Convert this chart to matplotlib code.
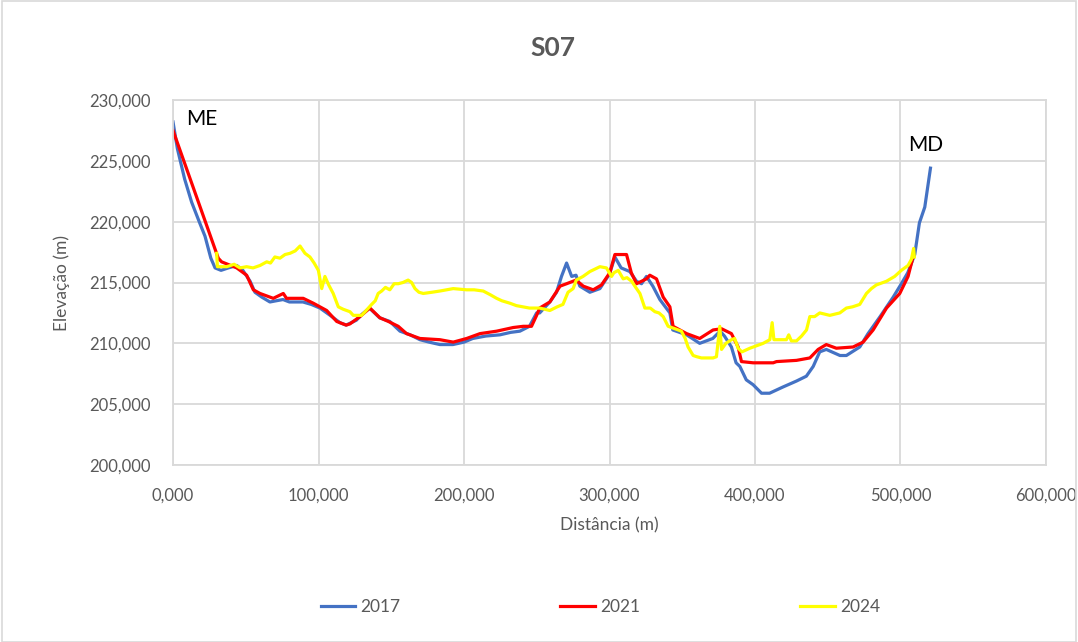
import matplotlib
matplotlib.use("Agg")
import matplotlib.pyplot as plt
from matplotlib.ticker import FuncFormatter, MultipleLocator
from matplotlib.patches import Rectangle

plt.rcParams['font.family'] = ['Lato', 'DejaVu Sans']

# perfil S07 - distancia (m) / elevacao (m)
dist_2017 = [0, 3, 8, 12.8, 18, 22, 26, 28.9, 33, 38, 43.8, 48, 53, 56.3, 61, 66.6, 71, 75.6, 80, 89.3,
             95, 101, 108, 114.7, 119, 126, 130, 135, 142, 149, 156, 163, 169.7, 176, 183.4, 192.4, 200,
             206, 215, 224.7, 232, 238.4, 245, 249.9, 252, 259, 263.6, 267, 270.5, 274, 277, 279.6, 286.5,
             293.4, 300, 303.7, 308, 314, 318.6, 322, 325.4, 329.8, 334.6, 341.5, 343.5, 353, 362, 371,
             376, 379, 383.8, 387, 389.6, 394, 398.7, 404.5, 410, 419, 428.5, 435.3, 440, 444.5, 449,
             458.4, 462.8, 472, 477.7, 486, 495, 500.6, 505, 509.8, 513, 516.7, 520.6]
elev_2017 = [228.2, 226.0, 223.5, 221.6, 220.0, 218.8, 217.0, 216.2, 216.0, 216.2, 216.4, 216.0, 215.1,
             214.2, 213.8, 213.4, 213.5, 213.6, 213.4, 213.4, 213.2, 212.9, 212.3, 211.7, 211.5, 211.9,
             212.4, 212.9, 212.1, 211.8, 211.0, 210.7, 210.3, 210.1, 209.9, 209.9, 210.1, 210.4, 210.6,
             210.7, 210.9, 211.0, 211.4, 212.5, 212.5, 213.4, 214.2, 215.5, 216.6, 215.5, 215.6, 214.7,
             214.2, 214.5, 215.7, 217.1, 216.2, 215.9, 215.1, 214.9, 215.5, 214.7, 213.6, 212.5, 211.1,
             210.7, 210.0, 210.4, 211.0, 210.6, 209.7, 208.4, 208.1, 207.0, 206.6, 205.9, 205.9, 206.4,
             206.9, 207.3, 208.1, 209.3, 209.5, 209.0, 209.0, 209.7, 210.8, 212.2, 213.8, 214.9, 215.8,
             217.3, 219.9, 221.2, 224.4]

dist_2021 = [0, 31.1, 33.4, 43.8, 50.6, 55.2, 59.8, 68.9, 75.8, 78, 89.5, 96.4, 105.6, 112.5, 119, 121.6,
             128.5, 135.3, 142.2, 148, 154.8, 160.5, 169.7, 183.4, 192.6, 201.8, 211, 222.4, 233.8, 240.7,
             246.4, 249.9, 252, 259, 266, 270.5, 277, 282, 288.8, 294.5, 300.2, 303.7, 311.7, 315, 318.6,
             325.4, 327.7, 332.3, 336.9, 341.5, 343.7, 353, 362, 371.2, 377, 383.8, 388.4, 390.7, 398.7,
             412.5, 414.8, 428.5, 437.7, 443.4, 449, 455.9, 467.4, 474.3, 481.2, 490.4, 499.5, 505.2, 508.2]
elev_2021 = [227.5, 217.0, 216.7, 216.2, 215.6, 214.4, 214.1, 213.7, 214.1, 213.7, 213.7, 213.3, 212.7,
             211.8, 211.5, 211.6, 212.2, 212.9, 212.1, 211.8, 211.4, 210.8, 210.4, 210.3, 210.1, 210.4,
             210.8, 211.0, 211.3, 211.4, 211.4, 212.3, 212.9, 213.4, 214.7, 214.9, 215.2, 214.7, 214.4,
             214.8, 215.8, 217.3, 217.3, 215.8, 214.9, 215.3, 215.6, 215.3, 213.8, 213.0, 211.4, 210.8,
             210.4, 211.1, 211.2, 210.8, 209.7, 208.5, 208.4, 208.4, 208.5, 208.6, 208.8, 209.5, 209.9,
             209.6, 209.7, 210.1, 211.1, 212.9, 214.1, 215.5, 216.9]

dist_2024 = [30, 30.5, 36.9, 42, 46, 50.6, 55, 59.8, 64.4, 67, 70, 73.5, 77, 80.4, 84, 87.3, 90.7, 94.1,
             97, 99.9, 102.2, 104.4, 107, 110.1, 113.6, 117, 121.6, 123.9, 129.6, 132, 136.5, 139, 141,
             143.4, 146, 149, 152, 154.8, 158, 161.6, 164, 166.3, 169, 172, 178, 183.4, 188, 192.6, 201.8,
             207, 213.2, 218, 222.4, 226, 231.5, 236, 240.7, 245, 249.9, 252, 259, 264, 268, 271.5, 275,
             277.2, 281.8, 286.5, 290, 293.4, 297.9, 301.4, 303, 306, 309.4, 312, 315.2, 318, 320.9, 324.3,
             328, 331.2, 334, 336.9, 340.3, 345, 349.4, 352, 354, 357.5, 360, 363.2, 367, 371.2, 373.5,
             375.8, 377, 380, 383.8, 386, 388.4, 391, 396.5, 401, 405.6, 410.2, 411.8, 413, 418, 421.6,
             423.2, 425, 428.5, 432, 435.4, 437.7, 441, 444.5, 451.4, 458.3, 462.8, 467, 472, 476.6, 480,
             483.4, 490.3, 496, 500.6, 505.2, 507.5, 509, 509.5]
elev_2024 = [217.4, 216.3, 216.3, 216.5, 216.2, 216.3, 216.2, 216.4, 216.7, 216.6, 217.1, 217.0, 217.3,
             217.4, 217.6, 218.0, 217.4, 217.1, 216.6, 216.0, 214.5, 215.5, 214.8, 214.1, 213.0, 212.8,
             212.6, 212.3, 212.3, 212.6, 213.2, 213.5, 214.1, 214.3, 214.6, 214.4, 214.9, 214.9, 215.0,
             215.2, 215.0, 214.5, 214.2, 214.1, 214.2, 214.3, 214.4, 214.5, 214.4, 214.4, 214.3, 214.0,
             213.7, 213.5, 213.3, 213.1, 213.0, 212.9, 212.9, 212.9, 212.7, 213.0, 213.2, 214.2, 214.5,
             215.2, 215.5, 215.9, 216.1, 216.3, 216.2, 215.5, 215.8, 216.0, 215.3, 215.4, 215.1, 214.6,
             214.1, 212.9, 212.9, 212.6, 212.5, 212.2, 211.4, 211.2, 211.0, 210.4, 209.7, 209.0, 208.9,
             208.8, 208.8, 208.8, 208.9, 211.4, 209.5, 210.0, 210.3, 210.4, 209.6, 209.3, 209.6, 209.8,
             210.0, 210.3, 211.7, 210.3, 210.3, 210.3, 210.7, 210.2, 210.2, 210.6, 211.1, 212.2, 212.2,
             212.5, 212.3, 212.5, 212.9, 213.0, 213.2, 214.1, 214.5, 214.8, 215.1, 215.5, 216.0, 216.4,
             216.9, 217.8, 217.1]

anos = ["2017", "2021", "2024"]
cores = ["#4472C4", "#FF0000", "#FFFF00"]


def formato_br(v, pos):
    return f"{v:,.3f}".replace(",", "X").replace(".", ",").replace("X", ".")


fig = plt.figure(figsize=(10.78, 6.42), dpi=100)
ax = fig.add_axes([0.1605, 0.2757, 0.8098, 0.5685])

ax.plot(dist_2017, elev_2017, color=cores[0], lw=2.3, label=anos[0])
ax.plot(dist_2021, elev_2021, color=cores[1], lw=2.3, label=anos[1])
ax.plot(dist_2024, elev_2024, color=cores[2], lw=2.3, label=anos[2])

ax.set_xlim(0, 600)
ax.set_ylim(200, 230)
ax.xaxis.set_major_locator(MultipleLocator(100))
ax.yaxis.set_major_locator(MultipleLocator(5))
ax.xaxis.set_major_formatter(FuncFormatter(formato_br))
ax.yaxis.set_major_formatter(FuncFormatter(formato_br))
ax.grid(True, color="#d9d9d9", lw=1.3)
ax.set_axisbelow(True)
for s in ax.spines.values():
    s.set_color("#d9d9d9")
    s.set_linewidth(1.3)
ax.tick_params(length=0, labelsize=12, labelcolor="#595959")
ax.tick_params(axis="y", pad=16)
ax.tick_params(axis="x", pad=16)

ax.set_xlabel("Distância (m)", fontsize=12.5, color="#595959", labelpad=10)
ax.set_ylabel("Elevação (m)", fontsize=12.5, color="#595959", labelpad=14)

ax.text(9, 228.4, "ME", fontsize=15, va="center", ha="left")
ax.text(517, 226.3, "MD", fontsize=15, va="center", ha="center")

fig.text(0.513, 0.925, "S07", fontsize=19, fontweight="bold", color="#595959", ha="center", va="center")

fig.legend(loc="center", bbox_to_anchor=(0.557, 0.055), ncol=3, frameon=False,
           columnspacing=9.2, handlelength=2.0, handletextpad=0.3, fontsize=12.5,
           labelcolor="#595959")

fig.patches.append(Rectangle((0.002, 0.0), 0.996, 0.998, transform=fig.transFigure,
                             fill=False, edgecolor="#d9d9d9", lw=1.2))

plt.savefig("out.png", dpi=100)
